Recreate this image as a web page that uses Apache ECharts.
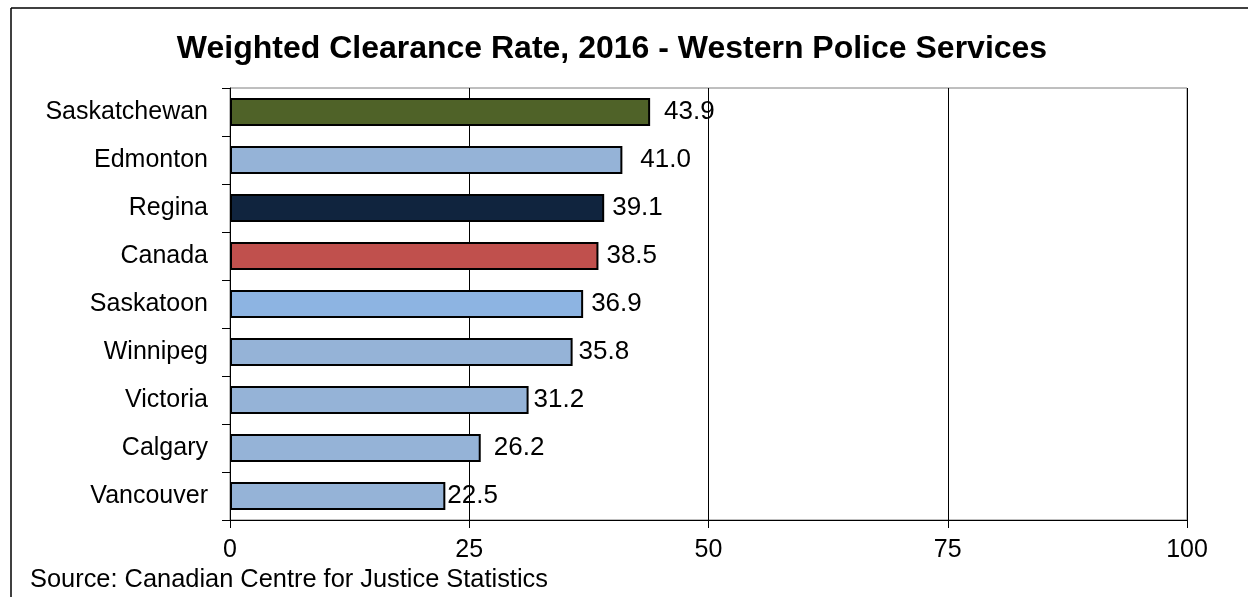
<!DOCTYPE html>
<html>
<head>
<meta charset="utf-8">
<script src="https://cdn.jsdelivr.net/npm/echarts@6/dist/echarts.min.js"></script>
<style>
  html, body { margin: 0; padding: 0; background: #fff; }
  #chart { width: 1248px; height: 597px; }
</style>
</head>
<body>
<div id="chart"></div>
<script>
const categories = ['Saskatchewan', 'Edmonton', 'Regina', 'Canada', 'Saskatoon', 'Winnipeg', 'Victoria', 'Calgary', 'Vancouver']
const rates = [43.9, 41.0, 39.1, 38.5, 36.9, 35.8, 31.2, 26.2, 22.5]
const barColors = ['#4F6228', '#95B3D7', '#10243E', '#C0504D', '#8DB4E2', '#95B3D7', '#95B3D7', '#95B3D7', '#95B3D7']
const xTicks = [0, 25, 50, 75, 100]
// gap between bar end and its value label, as Excel placed them
const labelGaps = [14, 18, 8, 8, 8, 6, 5, 13, 2]

const FONT = 'Liberation Sans, Arial, sans-serif'

const chart = echarts.init(document.getElementById('chart'))
chart.setOption({
  animation: false,
  title: {
    text: 'Weighted Clearance Rate, 2016 - Western Police Services',
    left: 607,
    textAlign: 'center',
    top: 28,
    textStyle: { fontFamily: FONT, fontSize: 32, fontWeight: 'bold', color: '#000' },
  },
  grid: {
    left: 230, right: 61, top: 88, bottom: 77,
    show: true, borderColor: '#7f7f7f', borderWidth: 1,
  },
  xAxis: {
    type: 'value',
    min: xTicks[0],
    max: xTicks[xTicks.length - 1],
    interval: 25,
    axisLine: { show: true, lineStyle: { color: '#000' } },
    axisTick: { show: true, length: 8, lineStyle: { color: '#000' } },
    splitLine: { show: true, lineStyle: { color: '#000' } },
    axisLabel: { fontFamily: FONT, fontSize: 25, color: '#000', margin: 18 },
  },
  yAxis: {
    type: 'category',
    data: categories,
    inverse: true,
    axisLine: { show: true, lineStyle: { color: '#000' } },
    axisTick: { show: true, length: 8, lineStyle: { color: '#000' } },
    axisLabel: { fontFamily: FONT, fontSize: 25, color: '#000', margin: 22 },
  },
  series: [{
    type: 'bar',
    barWidth: 28,
    data: rates.map((v, i) => ({
      value: v,
      itemStyle: { color: barColors[i], borderColor: '#000', borderWidth: 2 },
      label: { distance: labelGaps[i] },
    })),
    label: {
      show: true,
      position: 'right',
      fontFamily: FONT,
      fontSize: 26,
      color: '#000',
      formatter: p => p.value.toFixed(1),
    },
  }],
  graphic: [
    { type: 'line', shape: { x1: 11, y1: 8, x2: 1248, y2: 8 }, style: { stroke: '#000', lineWidth: 1.5 } },
    { type: 'line', shape: { x1: 11, y1: 8, x2: 11, y2: 597 }, style: { stroke: '#000', lineWidth: 1.5 } },
    {
      type: 'text', left: 30, top: 567,
      style: { text: 'Source: Canadian Centre for Justice Statistics', font: '25.4px Liberation Sans, Arial, sans-serif', fill: '#000' },
    },
  ],
})
</script>
</body>
</html>
